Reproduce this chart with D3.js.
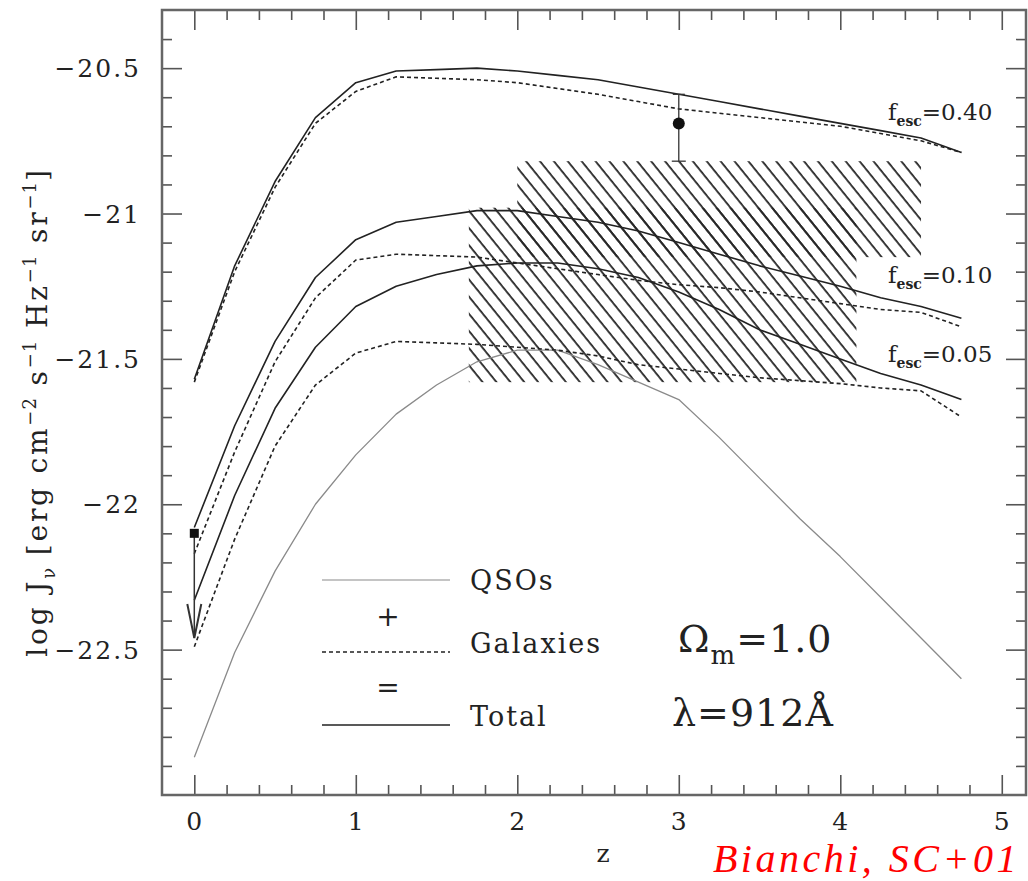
<!DOCTYPE html>
<html><head><meta charset="utf-8">
<script src="https://cdn.jsdelivr.net/npm/d3@7"></script>
<style>
html,body{margin:0;padding:0;background:#fff;}
svg{display:block;}
text{font-family:"DejaVu Serif",serif;fill:#222;}
</style></head>
<body>
<svg id="c" width="1028" height="881"></svg>
<script>
// ---- data ----
const zGrid = [0,0.25,0.5,0.75,1,1.25,1.5,1.75,2,2.25,2.5,2.75,3,3.25,3.5,3.75,4,4.25,4.5,4.75];
const qso       = [-22.87,-22.51,-22.23,-22.00,-21.83,-21.69,-21.59,-21.51,-21.47,-21.47,-21.52,-21.58,-21.64,-21.77,-21.91,-22.05,-22.18,-22.32,-22.46,-22.60];
const total040  = [-21.57,-21.18,-20.89,-20.67,-20.55,-20.51,-20.505,-20.50,-20.51,-20.525,-20.54,-20.565,-20.59,-20.615,-20.64,-20.665,-20.69,-20.715,-20.74,-20.79];
const gal040    = [-21.58,-21.20,-20.91,-20.69,-20.58,-20.53,-20.535,-20.54,-20.55,-20.57,-20.59,-20.615,-20.64,-20.655,-20.67,-20.685,-20.70,-20.725,-20.75,-20.79];
const total010  = [-22.08,-21.73,-21.44,-21.22,-21.09,-21.03,-21.01,-20.99,-20.99,-21.01,-21.03,-21.06,-21.10,-21.14,-21.18,-21.215,-21.25,-21.29,-21.32,-21.36];
const gal010    = [-22.17,-21.82,-21.51,-21.29,-21.16,-21.14,-21.145,-21.15,-21.17,-21.19,-21.21,-21.23,-21.245,-21.255,-21.27,-21.29,-21.31,-21.33,-21.34,-21.39];
const total005  = [-22.33,-21.97,-21.67,-21.46,-21.32,-21.25,-21.21,-21.18,-21.17,-21.17,-21.19,-21.22,-21.27,-21.33,-21.40,-21.45,-21.50,-21.55,-21.59,-21.64];
const gal005    = [-22.49,-22.12,-21.80,-21.59,-21.48,-21.44,-21.445,-21.45,-21.46,-21.47,-21.49,-21.52,-21.535,-21.55,-21.565,-21.575,-21.585,-21.60,-21.61,-21.70];
// hatched observational boxes
const hatchZ0 = [2.0, 1.7];
const hatchZ1 = [4.5, 4.1];
const hatchTop = [-20.82, -20.98];
const hatchBottom = [-21.15, -21.58];
// measurement with error bar
const errZ = [3.0], errVal = [-20.69], errHi = [-20.59], errLo = [-20.82];
// upper limit
const limZ = [0.0], limVal = [-22.10], limTo = [-22.46];
// ticks
const xMajor = [0,1,2,3,4,5];
const yMajor = [-20.5,-21,-21.5,-22,-22.5];
const yLabels = ["\u221220.5","\u221221","\u221221.5","\u221222","\u221222.5"];
const fescLabels = ["0.40","0.10","0.05"];
const fescY = [-20.68, -21.24, -21.51];

// ---- chart ----
const svg = d3.select("#c");
const L=162, R=1026, T=10, B=795;
const x = d3.scaleLinear().domain([-0.2,5.15]).range([L,R]);
const y = d3.scaleLinear().domain([-23,-20.3]).range([B,T]);

const defs = svg.append("defs");
const pat = defs.append("pattern").attr("id","hatch").attr("patternUnits","userSpaceOnUse")
  .attr("width",10.8).attr("height",20).attr("patternTransform","rotate(-39)");
pat.append("line").attr("x1",5).attr("x2",5).attr("y1",-2).attr("y2",22)
  .attr("stroke","#262626").attr("stroke-width",1.8);

// hatch boxes
svg.append("g").selectAll("rect").data(hatchZ0).join("rect")
  .attr("x",(d,i)=>x(d)).attr("y",(d,i)=>y(hatchTop[i]))
  .attr("width",(d,i)=>x(hatchZ1[i])-x(d)).attr("height",(d,i)=>y(hatchBottom[i])-y(hatchTop[i]))
  .attr("fill","url(#hatch)");

const line = d3.line().x((d,i)=>x(zGrid[i])).y(d=>y(d));
function curve(data, dash, color, w){
  svg.append("path").attr("d",line(data)).attr("fill","none")
    .attr("stroke",color).attr("stroke-width",w)
    .attr("stroke-dasharray",dash||null).attr("stroke-linejoin","round");
}
curve(qso, null, "#8a8a8a", 1.3);
[gal040,gal010,gal005].forEach(s=>curve(s,"4,3","#222",1.6));
[total040,total010,total005].forEach(s=>curve(s,null,"#222",1.6));

// error bar point
const eg = svg.append("g").attr("stroke","#333").attr("stroke-width",1.3);
errZ.forEach((z,i)=>{
  eg.append("line").attr("x1",x(z)).attr("x2",x(z)).attr("y1",y(errHi[i])).attr("y2",y(errLo[i]));
  eg.append("line").attr("x1",x(z)-6).attr("x2",x(z)+6).attr("y1",y(errHi[i])).attr("y2",y(errHi[i]));
  eg.append("line").attr("x1",x(z)-7).attr("x2",x(z)+7).attr("y1",y(errLo[i])).attr("y2",y(errLo[i]));
  svg.append("circle").attr("cx",x(z)).attr("cy",y(errVal[i])).attr("r",6).attr("fill","#111");
});
// upper limit
limZ.forEach((z,i)=>{
  const g = svg.append("g").attr("stroke","#333").attr("stroke-width",1.5).attr("fill","none");
  g.append("line").attr("x1",x(z)).attr("x2",x(z)).attr("y1",y(limVal[i])).attr("y2",y(limTo[i]));
  const ty=y(limTo[i]);
  g.append("path").attr("d",`M${x(z)-7},${ty-34}L${x(z)},${ty}L${x(z)+7},${ty-34}`).attr("stroke-width",2);
  svg.append("rect").attr("x",x(z)-4.5).attr("y",y(limVal[i])-4.5).attr("width",9).attr("height",9).attr("fill","#111");
});

// frame and ticks
const tickColor="#555";
function axisTicks(axisFn, scale, vals, size, transform){
  const g = svg.append("g").attr("transform",transform)
    .call(axisFn(scale).tickValues(vals).tickSize(size).tickFormat(""));
  g.select(".domain").remove();
  g.selectAll("line").attr("stroke",tickColor).attr("stroke-width",1.6);
}
const xMinor = d3.range(-0.2,5.15,0.2).map(v=>+v.toFixed(2)).filter(v=>!xMajor.includes(v) && v>-0.19);
const yMinor = d3.range(-23,-20.3,0.1).map(v=>+v.toFixed(2)).filter(v=>!yMajor.includes(v) && v>-22.99);
axisTicks(d3.axisBottom,x,xMajor,-20,`translate(0,${B})`);
axisTicks(d3.axisBottom,x,xMinor,-10,`translate(0,${B})`);
axisTicks(d3.axisTop,x,xMajor,-20,`translate(0,${T})`);
axisTicks(d3.axisTop,x,xMinor,-10,`translate(0,${T})`);
axisTicks(d3.axisLeft,y,yMajor,-20,`translate(${L},0)`);
axisTicks(d3.axisLeft,y,yMinor,-10,`translate(${L},0)`);
axisTicks(d3.axisRight,y,yMajor,-20,`translate(${R},0)`);
axisTicks(d3.axisRight,y,yMinor,-10,`translate(${R},0)`);
svg.append("rect").attr("x",L).attr("y",T).attr("width",R-L).attr("height",B-T)
  .attr("fill","none").attr("stroke","#666").attr("stroke-width",2.5);

// tick labels
svg.append("g").selectAll("text").data(xMajor).join("text")
  .attr("x",d=>x(d)).attr("y",830).attr("text-anchor","middle")
  .attr("font-size",25).text(d=>d);
svg.append("g").selectAll("text").data(yMajor).join("text")
  .attr("x",141).attr("y",d=>y(d)+9).attr("text-anchor","end")
  .attr("font-size",25).attr("letter-spacing",2).text((d,i)=>yLabels[i]);

// axis titles
svg.append("text").attr("x",603).attr("y",862).attr("text-anchor","middle").attr("font-size",25).text("z");
const yt = svg.append("text").attr("transform","translate(47,412) rotate(-90)")
  .attr("text-anchor","middle").attr("font-size",28).attr("letter-spacing",2.8);
const parts = [["log J",0],["\u03bd",-1],[" [erg cm",0],["\u22122",1],[" s",0],["\u22121",1],[" Hz",0],["\u22121",1],[" sr",0],["\u22121",1],["]",0]];
let prev=0;
parts.forEach(([t,s])=>{
  const ts = yt.append("tspan").text(t);
  const off = (s===1? -11 : s===-1? 8 : 0);
  const dy = off - prev;
  if(dy) ts.attr("dy",dy);
  if(s!==0) ts.attr("font-size",18).attr("letter-spacing",1);
  prev = off;
});

// f_esc labels
fescLabels.forEach((lab,i)=>{
  const t = svg.append("text").attr("x",888).attr("y",y(fescY[i])).attr("font-size",23);
  t.append("tspan").text("f");
  t.append("tspan").attr("dy",6).attr("font-size",14).attr("font-weight","bold").text("esc");
  t.append("tspan").attr("dy",-6).text("="+lab);
});

// legend
const legItems = [{label:"QSOs",dash:null,color:"#8a8a8a",w:1.2,ly:580},
                  {label:"Galaxies",dash:"4,3",color:"#222",w:1.4,ly:652},
                  {label:"Total",dash:null,color:"#222",w:1.6,ly:725}];
legItems.forEach(d=>{
  svg.append("line").attr("x1",322).attr("x2",450).attr("y1",d.ly).attr("y2",d.ly)
    .attr("stroke",d.color).attr("stroke-width",d.w).attr("stroke-dasharray",d.dash);
});
svg.append("text").attr("x",470).attr("y",590).attr("font-size",27).attr("letter-spacing",2).text("QSOs");
svg.append("text").attr("x",470).attr("y",653).attr("font-size",27).attr("letter-spacing",2).text("Galaxies");
svg.append("text").attr("x",470).attr("y",726).attr("font-size",27).attr("letter-spacing",2).text("Total");
svg.append("text").attr("x",388).attr("y",626).attr("text-anchor","middle").attr("font-size",28).text("+");
svg.append("text").attr("x",388).attr("y",697).attr("text-anchor","middle").attr("font-size",28).text("=");

const om = svg.append("text").attr("x",678).attr("y",652).attr("font-size",38).attr("letter-spacing",1);
om.append("tspan").text("\u03a9");
om.append("tspan").attr("dy",12).attr("font-size",26).text("m");
om.append("tspan").attr("dy",-12).text("=1.0");
svg.append("text").attr("x",672).attr("y",726).attr("font-size",38).attr("letter-spacing",1).text("\u03bb=912\u00c5");

svg.append("text").attr("x",1020).attr("y",872).attr("text-anchor","end")
  .style("font-family","'Liberation Serif',serif").style("font-style","italic")
  .style("fill","#ff0000").attr("font-size",40).attr("letter-spacing",3.5).text("Bianchi, SC+01");
</script>
</body></html>
